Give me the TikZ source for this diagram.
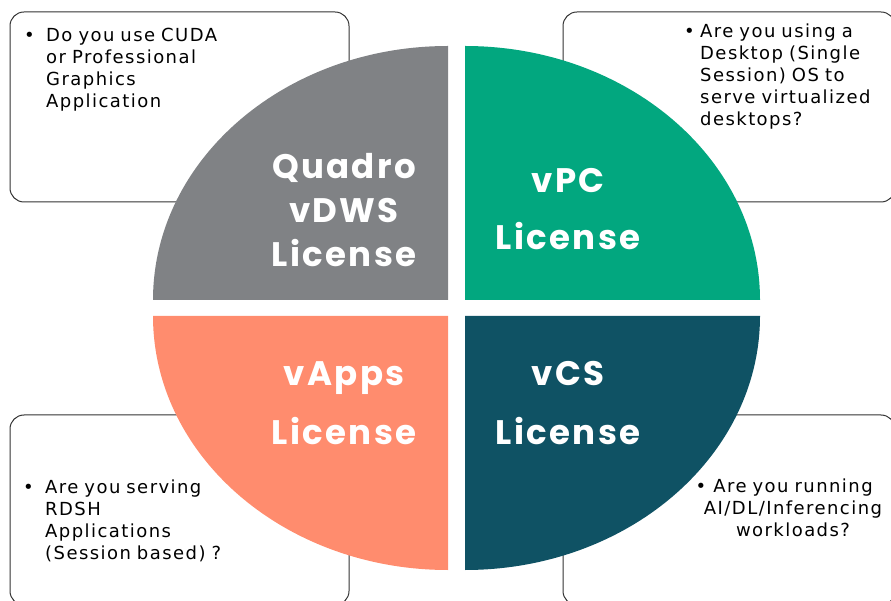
\documentclass[tikz,border=0pt]{standalone}
\usepackage{fontspec}
\setmainfont{DejaVu Sans}[LetterSpace=8]
\newfontfamily\licfont{Poppins}[LetterSpace=7]
\definecolor{quadrogray}{RGB}{128,130,133}
\definecolor{vpcgreen}{RGB}{2,167,127}
\definecolor{vappsorange}{RGB}{255,140,110}
\definecolor{vcsteal}{RGB}{15,82,100}

\begin{document}
\begin{tikzpicture}[x=1pt,y=1pt,
  qbox/.style={draw=black!80,line width=1pt,rounded corners=14pt,
    minimum width=339pt,minimum height=190pt,inner sep=0pt},
  qtext/.style={text width=190pt,align=left,anchor=base west,inner sep=0pt,
    font=\fontsize{18}{22}\selectfont},
  lic/.style={text=white,align=center,anchor=base,inner sep=0pt,text width=180pt,
    font=\licfont\bfseries\fontsize{34}{#1}\selectfont}]
  \useasboundingbox (0,0) rectangle (891,600);
  \clip (0,0) rectangle (891,600);
  % question boxes, behind the quarters
  \node[qbox] (cudabox) at (179.5,493) {};
  \node[qbox,minimum width=332pt] (vpcbox) at (729,493) {};
  \node[qbox] (vappsbox) at (179.5,90) {};
  \node[qbox,minimum width=332pt] (vcsbox) at (729,90) {};
  % the four quarters
  \fill[quadrogray] (448,300) -- (153,300) arc[start angle=180,end angle=90,x radius=295,y radius=254] -- cycle;
  \fill[vpcgreen] (465,300) -- (465,554) arc[start angle=90,end angle=0,x radius=295,y radius=254] -- cycle;
  \fill[vappsorange] (448,284) -- (448,30) arc[start angle=270,end angle=180,x radius=295,y radius=254] -- cycle;
  \fill[vcsteal] (465,284) -- (760,284) arc[start angle=0,end angle=-90,x radius=295,y radius=254] -- cycle;
  % licence names
  \node[lic=44] (quadro) at (344,421) {Quadro\\vDWS\\License};
  \node[lic=57] (vpc) at (568,407) {vPC\\License};
  \node[lic=58] (vapps) at (344,214) {vApps\\License};
  \node[lic=58] (vcs) at (568,214) {vCS\\License};
  % questions
  \node[qtext] (cudaq) at (46,558) {\llap{\makebox[22pt][l]{•}}Do you use CUDA\\or Professional\\Graphics\\Application};
  \node[qtext] (vpcq) at (700,562) {\llap{\makebox[16pt][l]{•}}Are you using a\\Desktop (Single\\Session) OS to\\serve virtualized\\desktops?};
  \node[qtext] (vappsq) at (45,107) {\llap{\makebox[22pt][l]{•}}Are you serving\\RDSH\\Applications\\(Session based) ?};
  \node[qtext,align=center,anchor=base] (vcsq) at (793,108) {\llap{•\hspace{7pt}}Are you running\\AI/DL/Inferencing\\workloads?};
\end{tikzpicture}
\end{document}
